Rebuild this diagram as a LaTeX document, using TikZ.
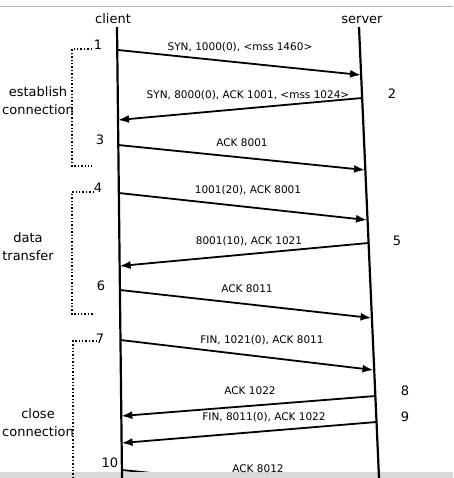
\documentclass[tikz,border=0pt]{standalone}
\usepackage{fontspec}
\setmainfont{DejaVu Sans}
\usetikzlibrary{arrows.meta}
\tikzset{
  lifeline/.style={line width=2.2pt},
  msg/.style={line width=1.8pt,-{Latex[length=11pt,width=8pt]}},
  phase/.style={dotted,line width=1.4pt},
  msglabel/.style={font=\fontsize{10.5}{12}\selectfont,inner sep=0pt},
  numlabel/.style={font=\fontsize{13}{15}\selectfont,inner sep=0pt},
  sidelabel/.style={font=\fontsize{13}{18}\selectfont,align=center,inner sep=0pt}
}
\begin{document}
\begin{tikzpicture}[x=1pt,y=-1pt]
\useasboundingbox (0,0) rectangle (453,478);
\clip (0,0) rectangle (453,478);
\draw[gray!60,line width=1pt] (0,7) -- (453,7);

\coordinate (cC1Pt) at (118,50);
\coordinate (cS1Pt) at (361,75);
\coordinate (cS2Pt) at (362,98);
\coordinate (cC2Pt) at (118,120);
\coordinate (cC3Pt) at (118.3,145);
\coordinate (cS3Pt) at (365,170);
\coordinate (cC4Pt) at (118.8,193);
\coordinate (cS4Pt) at (367,220);
\coordinate (cS5Pt) at (368.5,243);
\coordinate (cC5Pt) at (119.6,266);

\coordinate (cC6Pt) at (119.9,290);
\coordinate (cS6Pt) at (371.5,318);
\coordinate (cC7Pt) at (120.5,340);
\coordinate (cS7Pt) at (373.5,370);
\coordinate (cS8Pt) at (375.4,396);
\coordinate (cC8Pt) at (121.3,416);
\coordinate (cS9Pt) at (376.5,422);
\coordinate (cC9Pt) at (121.6,443);
\coordinate (cC10Pt) at (121.9,470);
\coordinate (cS10Pt) at (379.8,496);
\foreach \v/\u in {C1Pt/S1Pt, S2Pt/C2Pt, C3Pt/S3Pt, C4Pt/S4Pt, S5Pt/C5Pt, C6Pt/S6Pt, C7Pt/S7Pt, S8Pt/C8Pt, S9Pt/C9Pt, C10Pt/S10Pt}
{
    \draw [msg](c\v)--(c\u);
};
% screen edge
\fill[gray!30] (0,471.5) rectangle (453,478);

\node[numlabel] (nClient) at (113,19) {client};
\node[numlabel] (nServer) at (362,20) {server};
\coordinate (cCTopPt) at (117,27);
\coordinate (cCBotPt) at (122,478);
\coordinate (cSTopPt) at (359,27);
\coordinate (cSBotPt) at (379,478);
\draw [lifeline](cCTopPt)--(cCBotPt);
\draw [lifeline](cSTopPt)--(cSBotPt);

\node[msglabel] (nMsg1) at (240,47) {SYN, 1000(0), <mss 1460>};
\node[msglabel] (nMsg2) at (248,95) {SYN, 8000(0), ACK 1001, <mss 1024>};
\node[msglabel] (nMsg3) at (242,143) {ACK 8001};
\node[msglabel] (nMsg4) at (248,190) {1001(20), ACK 8001};
\node[msglabel] (nMsg5) at (249,241) {8001(10), ACK 1021};
\node[msglabel] (nMsg6) at (247,289) {ACK 8011};
\node[msglabel] (nMsg7) at (262,340) {FIN, 1021(0), ACK 8011};
\node[msglabel] (nMsg8) at (250,391) {ACK 1022};
\node[msglabel] (nMsg9) at (264,417) {FIN, 8011(0), ACK 1022};
\node[msglabel] (nMsg10) at (258,469) {ACK 8012};

\node[numlabel] (nNum1) at (98,45) {1};
\node[numlabel] (nNum2) at (392,94) {2};
\node[numlabel] (nNum3) at (100,140) {3};
\node[numlabel] (nNum4) at (98,188) {4};
\node[numlabel] (nNum5) at (397,241) {5};
\node[numlabel] (nNum6) at (101,286) {6};
\node[numlabel] (nNum7) at (100,339) {7};
\node[numlabel] (nNum8) at (405,391) {8};
\node[numlabel] (nNum9) at (405,417) {9};
\node[numlabel] (nNum10) at (110,463) {10};

% phases
\draw [phase] (92,49) -- (72,49) -- (72,166) -- (92,166);
\draw [phase] (94,192) -- (72,192) -- (72,314) -- (93,314);
\draw [phase] (97,341) -- (73,341) -- (73,478);
\node[sidelabel] (nEstablish) at (38,101) {establish\\connection};
\node[sidelabel] (nData) at (28,247) {data\\transfer};
\node[sidelabel] (nClose) at (38,423) {close\\connection};

\end{tikzpicture}
\end{document}
